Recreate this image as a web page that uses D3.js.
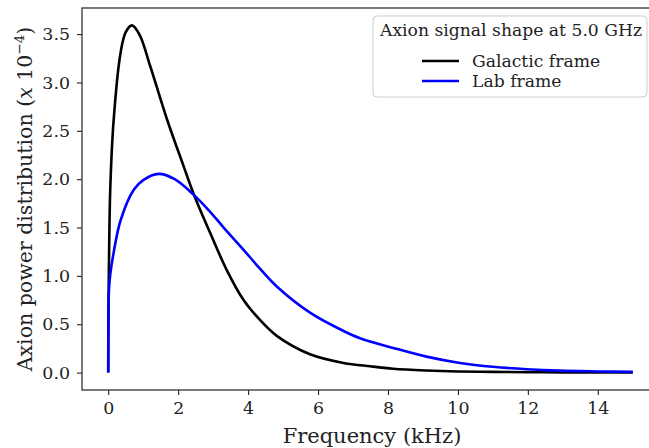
<!DOCTYPE html>
<html>
<head>
<meta charset="utf-8">
<script src="https://cdn.jsdelivr.net/npm/d3@7"></script>
<style>
  body { margin: 0; background: #fff; }
  svg { display: block; font-family: "DejaVu Serif", serif; }
</style>
</head>
<body>
<figure id="chart" style="margin:0"></figure>
<script>
// frequency offsets (kHz) and power values (x 1e-4)
const galacticX = [0, 0.005, 0.02, 0.06, 0.155, 0.35, 0.5, 0.68, 0.9, 1.2, 1.68, 2.15, 2.44, 2.92, 3.39, 3.87, 4.3, 4.82, 5.77, 6.73, 7.49, 8.15, 9.1, 10, 11, 12, 13, 14, 15];
const galacticY = [0, 0.55, 1.1, 1.92, 2.61, 3.30, 3.52, 3.59, 3.49, 3.17, 2.62, 2.14, 1.85, 1.44, 1.06, 0.75, 0.56, 0.38, 0.19, 0.10, 0.065, 0.04, 0.022, 0.012, 0.007, 0.004, 0.002, 0.001, 0.0005];

const labX = [0, 0.005, 0.02, 0.06, 0.155, 0.35, 0.73, 1.0, 1.44, 1.9, 2.44, 2.92, 3.3, 3.87, 4.3, 4.82, 5.77, 6.73, 7.2, 8.15, 9.1, 10.06, 11, 11.97, 12.9, 14, 15];
const labY = [0, 0.5, 0.85, 1.02, 1.24, 1.57, 1.89, 1.99, 2.055, 2.0, 1.84, 1.66, 1.50, 1.27, 1.09, 0.89, 0.62, 0.43, 0.355, 0.255, 0.165, 0.10, 0.06, 0.035, 0.02, 0.012, 0.007];

const xTicks = [0, 2, 4, 6, 8, 10, 12, 14];
const yTicks = [0, 0.5, 1.0, 1.5, 2.0, 2.5, 3.0, 3.5];

const legendTitle = "Axion signal shape at 5.0 GHz";
const seriesNames = ["Galactic frame", "Lab frame"];
const seriesColors = ["#000000", "#0000ff"];

const W = 649, H = 448;
const mLeft = 82, mRight = 659, mTop = 8, mBottom = 390;

const svg = d3.select("figure#chart")
  .append("svg")
  .attr("width", W)
  .attr("height", H);

const x = d3.scaleLinear().domain([-0.75, 15.75]).range([mLeft, mRight]);
const y = d3.scaleLinear().domain([-0.18, 3.77]).range([mBottom, mTop]);

// clip for plot area
svg.append("clipPath").attr("id", "plotclip")
  .append("rect")
  .attr("x", mLeft).attr("y", mTop)
  .attr("width", mRight - mLeft).attr("height", mBottom - mTop);

// curves
const line = d3.line()
  .x(d => x(d[0]))
  .y(d => y(d[1]))
  .curve(d3.curveCatmullRom.alpha(0.5));

const series = [
  d3.zip(galacticX, galacticY),
  d3.zip(labX, labY)
];

const plot = svg.append("g").attr("clip-path", "url(#plotclip)");
// draw black first, blue on top
series.forEach((s, i) => {
  plot.append("path")
    .datum(s)
    .attr("d", line)
    .attr("fill", "none")
    .attr("stroke", seriesColors[i])
    .attr("stroke-width", 2.6)
    .attr("stroke-linejoin", "round");
});

// axes
const xAxis = svg.append("g")
  .attr("transform", "translate(0," + mBottom + ")")
  .call(d3.axisBottom(x).tickValues(xTicks).tickFormat(d3.format("d")).tickSizeOuter(0).tickSize(5).tickPadding(7));

const yAxis = svg.append("g")
  .attr("transform", "translate(" + mLeft + ",0)")
  .call(d3.axisLeft(y).tickValues(yTicks).tickFormat(d3.format(".1f")).tickSizeOuter(0).tickSize(5).tickPadding(7));

[xAxis, yAxis].forEach(a => {
  a.select(".domain").remove();
  a.selectAll("line").attr("stroke", "#222").attr("stroke-width", 1.1);
  a.selectAll("text")
    .attr("fill", "#222")
    .style("font-family", "DejaVu Serif")
    .style("font-size", "17.4px");
});

// spines
svg.append("rect")
  .attr("x", mLeft).attr("y", mTop)
  .attr("width", mRight - mLeft).attr("height", mBottom - mTop)
  .attr("fill", "none")
  .attr("stroke", "#222")
  .attr("stroke-width", 1.2);

// axis labels
svg.append("text")
  .attr("x", 372)
  .attr("y", 443)
  .attr("text-anchor", "middle")
  .style("font-size", "21px")
  .attr("fill", "#222")
  .text("Frequency (kHz)");

const yl = svg.append("text")
  .attr("transform", "translate(32," + ((mTop + mBottom) / 2) + ") rotate(-90)")
  .attr("text-anchor", "middle")
  .style("font-size", "20.5px")
  .attr("fill", "#222");
yl.append("tspan").text("Axion power distribution (");
yl.append("tspan").attr("font-style", "italic").text("x");
yl.append("tspan").text(" 10");
yl.append("tspan").attr("dy", -8).style("font-size", "13.5px").text("−4");
yl.append("tspan").attr("dy", 8).text(")");

// legend
const lg = svg.append("g");
lg.append("rect")
  .attr("x", 373).attr("y", 16)
  .attr("width", 274).attr("height", 81)
  .attr("rx", 4)
  .attr("fill", "#fff").attr("fill-opacity", 0.8)
  .attr("stroke", "#ccc").attr("stroke-width", 1);
lg.append("text")
  .attr("x", 380).attr("y", 36)
  .style("font-size", "17.2px")
  .attr("fill", "#222")
  .text(legendTitle);
seriesNames.forEach((name, i) => {
  const yy = 61 + i * 20;
  lg.append("line")
    .attr("x1", 422).attr("x2", 459)
    .attr("y1", yy).attr("y2", yy)
    .attr("stroke", seriesColors[i])
    .attr("stroke-width", 2.6);
  lg.append("text")
    .attr("x", 472).attr("y", yy + 6)
    .style("font-size", "17.2px")
    .attr("fill", "#222")
    .text(name);
});
</script>
</body>
</html>
